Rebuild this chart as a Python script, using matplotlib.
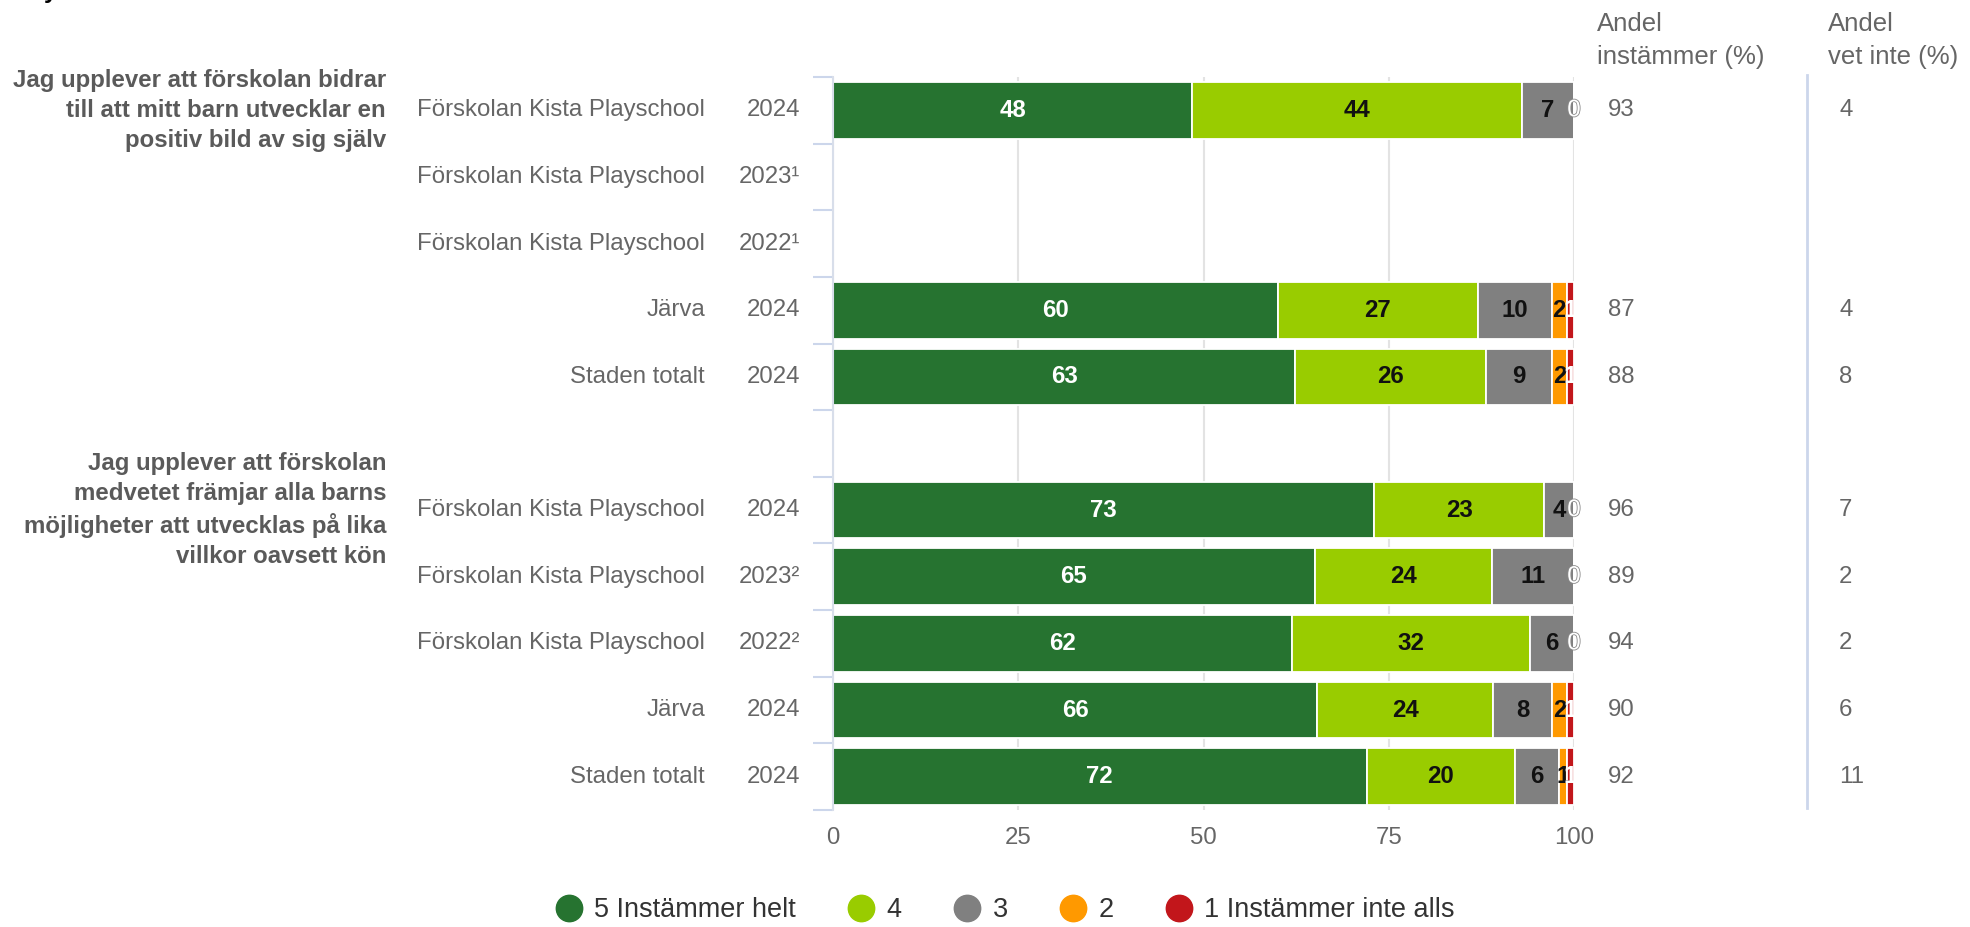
import numpy as np
import matplotlib
matplotlib.use("Agg")
from matplotlib import pyplot as plt
from matplotlib import transforms
from matplotlib.lines import Line2D
import matplotlib.patheffects as pe

plt.rcParams['font.family'] = ['Liberation Sans', 'DejaVu Sans']

# rows (the empty row separates the two questions)
names = ["Förskolan Kista Playschool", "Förskolan Kista Playschool", "Förskolan Kista Playschool",
         "Järva", "Staden totalt", "",
         "Förskolan Kista Playschool", "Förskolan Kista Playschool", "Förskolan Kista Playschool",
         "Järva", "Staden totalt"]
years = ["2024", "2023¹", "2022¹", "2024", "2024", "",
         "2024", "2023²", "2022²", "2024", "2024"]

questions = ["Jag upplever att förskolan bidrar\ntill att mitt barn utvecklar en\npositiv bild av sig själv",
             "Jag upplever att förskolan\nmedvetet främjar alla barns\nmöjligheter att utvecklas på lika\nvillkor oavsett kön"]
question_rows = [0, 6]

series_names = ["5 Instämmer helt", "4", "3", "2", "1 Instämmer inte alls"]
s5 = [48, None, None, 60, 63, None, 73, 65, 62, 66, 72]
s4 = [44, None, None, 27, 26, None, 23, 24, 32, 24, 20]
s3 = [7, None, None, 10, 9, None, 4, 11, 6, 8, 6]
s2 = [0, None, None, 2, 2, None, 0, 0, 0, 2, 1]
s1 = [0, None, None, 1, 1, None, 0, 0, 0, 1, 1]

andel_instammer = [93, None, None, 87, 88, None, 96, 89, 94, 90, 92]
andel_vet_inte = [4, None, None, 4, 8, None, 7, 2, 2, 6, 11]

colors = ["#267330", "#99cc00", "#808080", "#ff9900", "#c2161b"]
label_colors = ["white", "#111111", "#111111", "#111111", "white"]

W, H = 1970, 927
fig = plt.figure(figsize=(W / 100, H / 100), dpi=100)
ax = fig.add_axes([833 / W, 1 - 810 / H, (1574 - 833) / W, (810 - 77) / H])

FS = 17.3
n = len(names)
y = np.arange(n)
values = [s5, s4, s3, s2, s1]

for i in range(n):
    if s5[i] is None:
        continue
    row = [v[i] for v in values]
    total = float(sum(row))
    left = 0.0
    zero_done = False
    for j, v in enumerate(row):
        w = v / total * 100
        ax.barh(y[i], w, left=left, height=0.85, color=colors[j],
                edgecolor='white', linewidth=1.3, zorder=2)
        if v > 0:
            ax.text(left + w / 2, y[i], str(v), ha='center', va='center',
                    fontsize=FS, fontweight='bold', color=label_colors[j], zorder=4)
        elif not zero_done:
            ax.text(left, y[i], "0", ha='center', va='center', fontsize=FS,
                    color='white', zorder=4,
                    path_effects=[pe.withStroke(linewidth=1.2, foreground='#8a8a8a')])
            zero_done = True
        left += w

ax.set_xlim(0, 100)
ax.set_ylim(n - 0.5, -0.5)
ax.set_xticks([0, 25, 50, 75, 100])
ax.tick_params(axis='x', length=0, pad=12, labelsize=FS, labelcolor='#666666')
ax.set_yticks(np.arange(-0.5, n, 1.0))
ax.set_yticklabels([])
ax.tick_params(axis='y', length=14.5, width=1.5, color='#ccd6eb')
ax.grid(axis='x', color='#e3e3e3', linewidth=1.5, zorder=0)
ax.set_axisbelow(True)
for s in ['top', 'right', 'bottom']:
    ax.spines[s].set_visible(False)
ax.spines['left'].set_color('#d8deea')
ax.spines['left'].set_linewidth(1.5)

# category labels
tr = transforms.blended_transform_factory(fig.transFigure, ax.transData)
for i in range(n):
    ax.text(705 / W, y[i], names[i], transform=tr, ha='right', va='center',
            fontsize=FS, color='#666666')
    ax.text(800 / W, y[i], years[i], transform=tr, ha='right', va='center',
            fontsize=FS, color='#666666')

for q, r in zip(questions, question_rows):
    ax.text(386 / W, r, q, transform=tr, ha='right', va='center', multialignment='right',
            fontsize=FS, fontweight='bold', color='#5a5a5a', linespacing=1.38)

# extra columns
for i in range(n):
    if andel_instammer[i] is not None:
        ax.text(1608 / W, y[i], str(andel_instammer[i]), transform=tr, ha='left', va='center',
                fontsize=FS, color='#666666')
    if andel_vet_inte[i] is not None:
        ax.text(1839 / W, y[i], str(andel_vet_inte[i]), transform=tr, ha='left', va='center',
                fontsize=FS, color='#666666')

fig.text(1597 / W, 1 - 31 / H, "Andel", ha='left', va='baseline', fontsize=18.5, color='#666666')
fig.text(1597 / W, 1 - 64 / H, "instämmer (%)", ha='left', va='baseline', fontsize=18.5, color='#666666')
fig.text(1828 / W, 1 - 31 / H, "Andel", ha='left', va='baseline', fontsize=18.5, color='#666666')
fig.text(1828 / W, 1 - 64 / H, "vet inte (%)", ha='left', va='baseline', fontsize=18.5, color='#666666')
fig.add_artist(Line2D([1807 / W, 1807 / W], [1 - 75 / H, 1 - 808 / H], color='#ccd6eb', lw=2))

# title cut off at the top edge
fig.text(44 / W, 1 + 2 / H, "y", ha='left', va='baseline', fontsize=FS, fontweight='bold', color='black')

handles = [Line2D([], [], marker='o', linestyle='none', markersize=19,
                  markerfacecolor=c, markeredgecolor=c) for c in colors]
fig.legend(handles, series_names, loc='center', bbox_to_anchor=(1005 / W, 1 - 910 / H),
           ncol=5, frameon=False, fontsize=19.5, handlelength=1.0, handletextpad=0.45,
           columnspacing=1.9, labelcolor='#333333')

fig.savefig("out.png", dpi=100)
